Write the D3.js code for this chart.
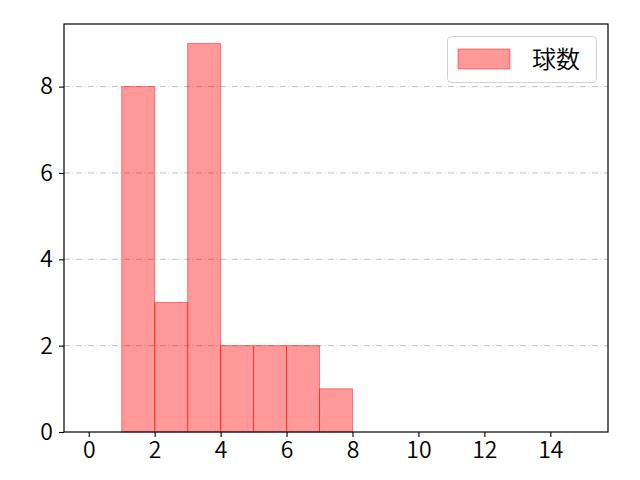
<!DOCTYPE html>
<html><head><meta charset="utf-8">
<script src="https://cdn.jsdelivr.net/npm/d3@7"></script>
<style>body{margin:0;background:#fff}svg{display:block}text{font-family:"Noto Sans CJK JP","Noto Sans",sans-serif}</style>
</head><body>
<script>
const binStarts = [1,2,3,4,5,6,7];
const binWidth = 1;
const counts = [8,3,9,2,2,2,1];
const xTicks = [0,2,4,6,8,10,12,14];
const yTicks = [0,2,4,6,8];
const seriesName = "球数";

const W=640,H=480, L=64,T=24,R=608,B=432;
const svg=d3.select("body").append("svg").attr("width",W).attr("height",H);
const x=d3.scaleLinear().domain([-0.75,15.75]).range([L,R]);
const y=d3.scaleLinear().domain([0,9.45]).range([B,T]);

// grid
svg.append("g").selectAll("line").data(yTicks.filter(d=>d>0)).join("line")
 .attr("x1",L).attr("x2",R).attr("y1",d=>y(d)).attr("y2",d=>y(d))
 .attr("stroke","#b0b0b0").attr("stroke-width",0.8).attr("stroke-dasharray","6,2.5,1,2.5");

// bars
svg.append("g").selectAll("rect").data(counts).join("rect")
 .attr("x",(d,i)=>x(binStarts[i])).attr("width",(d,i)=>x(binStarts[i]+binWidth)-x(binStarts[i]))
 .attr("y",d=>y(d)).attr("height",d=>y(0)-y(d))
 .attr("fill","rgba(255,0,0,0.4)").attr("stroke","rgba(255,0,0,0.45)").attr("stroke-width",1);

// axes
const xa=svg.append("g").attr("transform",`translate(0,${B})`).call(d3.axisBottom(x).tickValues(xTicks).tickSize(5).tickPadding(5).tickFormat(d3.format("d")));
const ya=svg.append("g").attr("transform",`translate(${L},0)`).call(d3.axisLeft(y).tickValues(yTicks).tickSize(5).tickPadding(6).tickFormat(d3.format("d")));
[xa,ya].forEach(a=>{a.select(".domain").remove();a.selectAll("line").attr("stroke","#000").attr("stroke-width",1.1);a.selectAll("text").attr("font-size",23).attr("fill","#000").style("font-family",'"Noto Sans CJK JP"').style("font-weight",350);});
svg.append("rect").attr("x",L).attr("y",T).attr("width",R-L).attr("height",B-T).attr("fill","none").attr("stroke","#000").attr("stroke-width",1.2);

// legend
const lg=svg.append("g");
lg.append("rect").attr("x",447.5).attr("y",36.5).attr("width",149).attr("height",46).attr("rx",4)
 .attr("fill","rgba(255,255,255,0.8)").attr("stroke","#d0d0d0");
lg.append("rect").attr("x",458).attr("y",49).attr("width",52).attr("height",20)
 .attr("fill","rgba(255,0,0,0.4)").attr("stroke","rgba(255,0,0,0.45)");
lg.append("text").attr("x",532).attr("y",68).attr("font-size",24).attr("fill","#000").style("font-weight",350).text(seriesName);
</script>
</body></html>
